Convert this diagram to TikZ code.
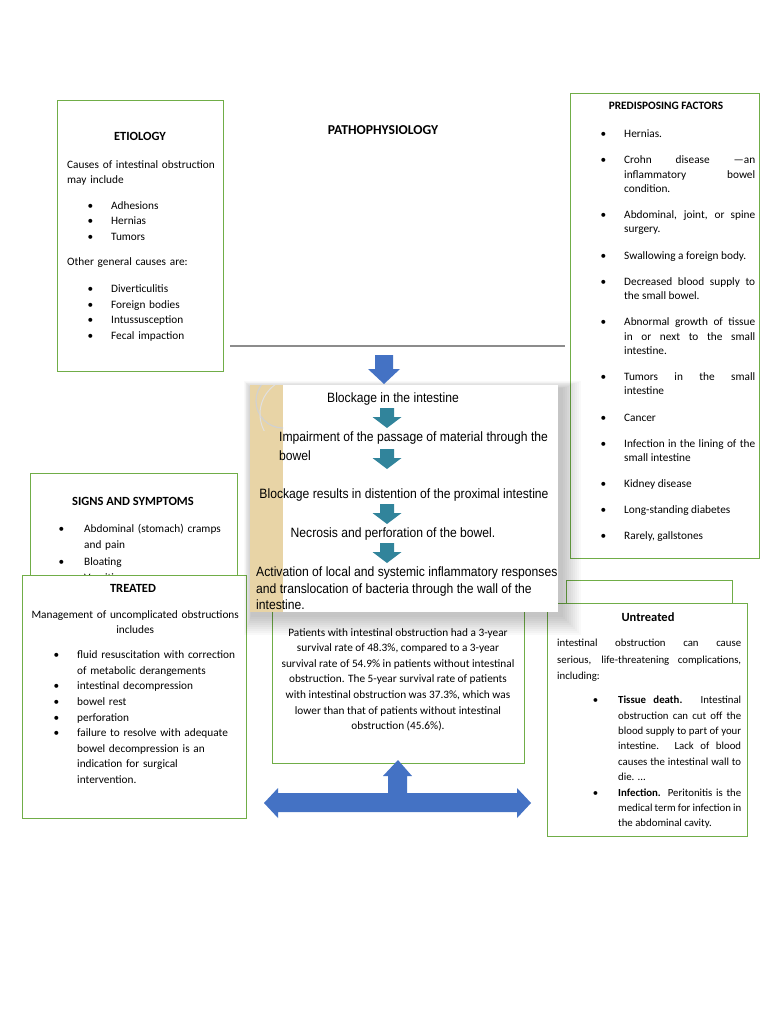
\documentclass[tikz,border=0pt]{standalone}
\usepackage{fontspec}
\setmainfont{Carlito}
\newfontfamily\flowfont[FakeStretch=0.9]{Liberation Sans}
\usepackage{enumitem}
\usetikzlibrary{positioning}

\definecolor{boxgreen}{HTML}{70AD47}
\definecolor{arrowblue}{HTML}{4472C4}
\definecolor{flowteal}{HTML}{31849B}
\definecolor{stripbeige}{HTML}{E8D4A6}

\newcommand\bodysize{\fontsize{11.3}{15.5}\selectfont}
\newcommand\headsize{\fontsize{12.5}{15}\selectfont\bfseries}
\newcommand\flowsize{\flowfont\fontsize{13.5}{16.5}\selectfont}

\setlist[itemize]{label=\textbullet,itemsep=0pt,parsep=0pt,topsep=0pt,partopsep=0pt,labelsep=18pt,leftmargin=44pt}
\tolerance=9999 \hyphenpenalty=10000 \exhyphenpenalty=10000

\tikzset{
  greenbox/.style={draw=boxgreen,line width=1pt,fill=white},
  headtext/.style={anchor=base,inner sep=0pt,font=\headsize},
  bodytext/.style={anchor=north west,inner sep=0pt,font=\bodysize},
  flowtext/.style={inner sep=0pt,font=\flowsize},
  pics/flowdown/.style={code={
    \fill[flowteal] (-7,0) -- (7,0) -- (7,9) -- (14.5,9) -- (0,20) -- (-14.5,9) -- (-7,9) -- cycle;}}
}

\begin{document}
\begin{tikzpicture}[x=1pt,y=-1pt]
\path[use as bounding box,fill=white] (0,0) rectangle (768,1024);

%etiology box
\draw[greenbox] (57,101) rectangle (223,371);
\node[headtext] (etiohead) at (140,141) {ETIOLOGY};
\node[bodytext,text width=152] (etiobody) at (67,160) {\raggedright
  Causes of intestinal obstruction\\ may include
  \begin{itemize}[topsep=10pt]
  \item Adhesions
  \item Hernias
  \item Tumors
  \end{itemize}
  Other general causes are:
  \begin{itemize}[topsep=11.5pt]
  \item Diverticulitis
  \item Foreign bodies
  \item Intussusception
  \item Fecal impaction
  \end{itemize}};

%title
\node[headtext,font=\fontsize{13.6}{16}\selectfont\bfseries] (pathohead) at (383,135) {PATHOPHYSIOLOGY};

%predisposing factors
\draw[greenbox] (570,94) rectangle (759,558);
\node[headtext,font=\bodysize\bfseries] (predhead) at (666,110) {PREDISPOSING FACTORS};
\node[bodytext,text width=175,align=justify,font=\fontsize{11.3}{14.4}\selectfont] (predbody) at (580,123) {
  \begin{itemize}[itemsep=11.7pt]
  \item Hernias.
  \item Crohn disease —an\linebreak inflammatory bowel\linebreak condition.
  \item Abdominal, joint, or spine\linebreak surgery.
  \item Swallowing a foreign body.
  \item Decreased blood supply to\linebreak the small bowel.
  \item Abnormal growth of tissue\linebreak in or next to the small\linebreak intestine.
  \item Tumors in the small\linebreak intestine
  \item Cancer
  \item Infection in the lining of the\linebreak small intestine
  \item Kidney disease
  \item Long-standing diabetes
  \item Rarely, gallstones
  \end{itemize}};

%horizontal line
\draw[black!45,line width=1.5pt] (230,346) -- (565,346);

%signs and symptoms
\draw[greenbox] (30,473) rectangle (237,600);
\node[headtext] (signhead) at (133,505) {SIGNS AND SYMPTOMS};
\node[bodytext,text width=190,font=\fontsize{11.3}{16.3}\selectfont] (signbody) at (40,516) {\raggedright
  \begin{itemize}[labelsep=20pt]
  \item Abdominal (stomach) cramps\\ and pain
  \item Bloating
  \item Vomiting
  \end{itemize}};

%treated
\draw[greenbox] (22,575) rectangle (246,818);
\node[headtext] (treathead) at (133,592) {TREATED};
\node[bodytext,text width=212,font=\fontsize{11.3}{15.6}\selectfont] (treatbody) at (29,610) {\raggedright
  {\centering Management of uncomplicated obstructions\\ includes\par}
  \begin{itemize}[topsep=9.5pt,leftmargin=48pt]
  \item fluid resuscitation with correction\\ of metabolic derangements
  \item intestinal decompression
  \item bowel rest
  \item perforation
  \item failure to resolve with adequate\\ bowel decompression is an\\ indication for surgical\\ intervention.
  \end{itemize}};

%survival
\draw[greenbox] (272,600) rectangle (524,763);
\node[bodytext,anchor=north,align=center,font=\fontsize{11.3}{15.6}\selectfont] (survtext) at (398,628) {Patients with intestinal obstruction had a 3-year\\
  survival rate of 48.3\%, compared to a 3-year\\
  survival rate of 54.9\% in patients without intestinal\\
  obstruction. The 5-year survival rate of patients\\
  with intestinal obstruction was 37.3\%, which was\\
  lower than that of patients without intestinal\\
  obstruction (45.6\%).};

%untreated
\draw[greenbox] (566,580) rectangle (732,610);
\draw[greenbox] (547,603) rectangle (747,836);
\node[headtext] (untreathead) at (648,621) {Untreated};
\node[bodytext,text width=184,align=justify,font=\fontsize{10.8}{16.5}\selectfont] (untreatbody) at (557,639) {
  intestinal obstruction can cause\linebreak serious, life-threatening complications,\linebreak including:\par
  \fontsize{10.8}{15.4}\selectfont
  \begin{itemize}[leftmargin=61pt,labelsep=20pt,topsep=8.6pt]
  \item \textbf{Tissue death.} Intestinal\linebreak obstruction can cut off the\linebreak blood supply to part of your\linebreak intestine. Lack of blood\linebreak causes the intestinal wall to\linebreak die. ...
  \item \textbf{Infection.} Peritonitis is the\linebreak medical term for infection in\linebreak the abdominal cavity.
  \end{itemize}};

%shadow of the slide
\foreach \k in {1,...,10}
  \fill[black,opacity=0.022] (252-\k*0.8,389-\k*0.8) rectangle (561+\k*2,615+\k*2);

%slide with the steps
\node[fill=white,inner sep=0pt,anchor=north west,minimum width=308,minimum height=227] (flowimg) at (250,385) {};
\fill[stripbeige] (250,385) rectangle (283,612);
\begin{scope}
\clip (250,385) rectangle (283,430);
\draw[black!18,line width=1.2pt] (283,401) circle (27);
\draw[black!12,line width=1pt] (296,414) circle (36);
\end{scope}

\node[flowtext,anchor=base] (step1) at (393,402.5) {Blockage in the intestine};
\pic at (387,408) {flowdown};
\node[flowtext,anchor=north west,align=left,font=\flowfont\fontsize{13.5}{19}\selectfont] (step2) at (279,432) {Impairment of the passage of material through the\\ bowel};
\pic at (387,449) {flowdown};
\node[flowtext,anchor=base] (step3) at (404,498.5) {Blockage results in distention of the proximal intestine};
\pic at (387,504) {flowdown};
\node[flowtext,anchor=base] (step4) at (393,537.5) {Necrosis and perforation of the bowel.};
\pic at (387,543) {flowdown};
\node[flowtext,anchor=north west,align=left] (step5) at (256,567) {Activation of local and systemic inflammatory responses\\ and translocation of bacteria through the wall of the\\ intestine.};

%blue arrows
\fill[arrowblue] (375,355) -- (393,355) -- (393,369) -- (400,369) -- (384,384) -- (368,369) -- (375,369) -- cycle;
\fill[arrowblue] (264,803) -- (278,788) -- (278,793) -- (388,793) -- (388,776) -- (383,776) -- (398,760) -- (412,776) -- (407,776) -- (407,793)
  -- (517,793) -- (517,788) -- (531,803) -- (517,818) -- (517,812) -- (278,812) -- (278,818) -- cycle;
\end{tikzpicture}
\end{document}
